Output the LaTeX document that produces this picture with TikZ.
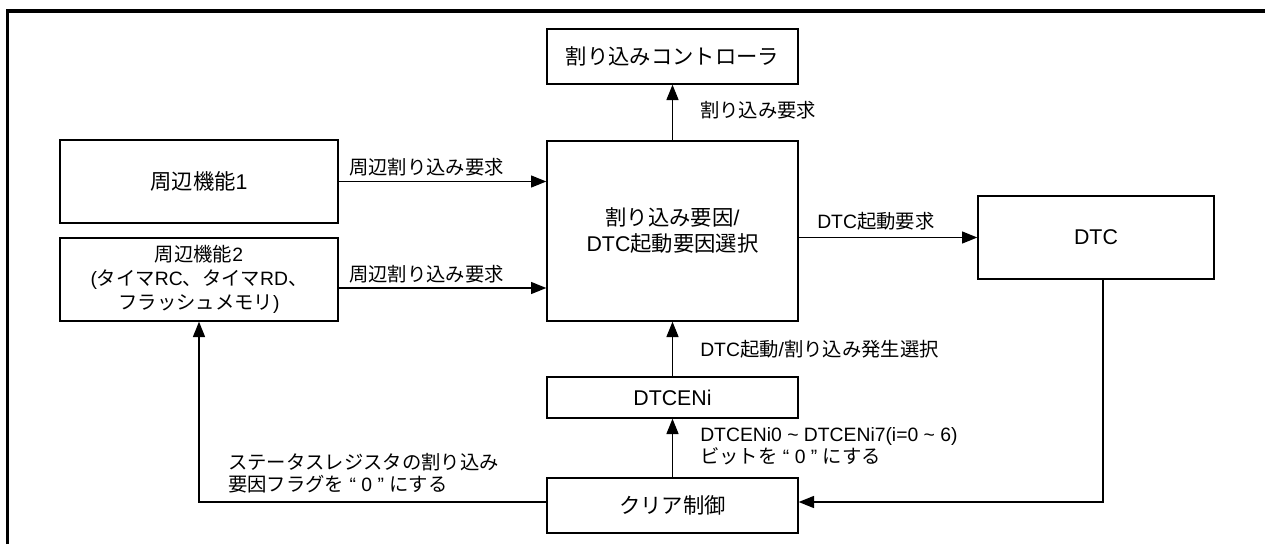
\documentclass[tikz,border=0pt]{standalone}
\usepackage{fontspec}
\setmainfont{Noto Sans CJK JP}
\newfontfamily\lib{Liberation Sans}
\newcommand\en[1]{{\lib #1}}
\usetikzlibrary{arrows.meta}
\begin{document}
\begin{tikzpicture}[x=0.75pt,y=-0.75pt,
  blk/.style={draw,line width=1pt,inner sep=0pt,align=center,font=\fontsize{16}{19.5}\selectfont},
  lab/.style={inner sep=0pt,anchor=west,align=left,font=\fontsize{14.5}{16.5}\selectfont},
  arr/.style={line width=1pt,-{Triangle[length=11.5pt,width=9pt]}},
  ln/.style={line width=1pt}]
\useasboundingbox (0,0) rectangle (1265,544);
\draw[line width=2.4pt] (7.5,544) -- (7.5,11) -- (1265,11);

\node[blk,minimum width=188.25pt,minimum height=41.25pt] (ctrl) at (672.5,56.5) {割り込みコントローラ};
\node[blk,minimum width=208.5pt,minimum height=62.25pt] (p1) at (199,181.5) {周辺機能\en{1}};
\node[blk,minimum width=208.5pt,minimum height=62.25pt,font=\fontsize{14.5}{18}\selectfont] (p2) at (199,279.5)
  {周辺機能\en{2}\\\en{(}タイマ\en{RC}、タイマ\en{RD}、\\フラッシュメモリ\en{)}};
\node[blk,minimum width=188.25pt,minimum height=135pt] (main) at (672.5,231)
  {割り込み要因\en{/}\\\en{DTC}起動要因選択};
\node[blk,minimum width=177pt,minimum height=62.25pt] (dtc) at (1096,237.5) {\en{DTC}};
\node[blk,minimum width=188.25pt,minimum height=30.75pt] (en) at (672.5,397.5) {\en{DTCENi}};
\node[blk,minimum width=188.25pt,minimum height=41.25pt] (clr) at (672.5,505.5) {クリア制御};

\coordinate (a2) at (0,288);
\coordinate (fb) at (1103,502);
\coordinate (fb2) at (199,502);

\draw[arr] (p1.east) -- (main.west |- p1.east);
\draw[arr] (p2.east |- a2) -- (main.west |- a2);
\draw[arr] (main.north) -- (ctrl.south);
\draw[arr] (main.east |- dtc.west) -- (dtc.west);
\draw[arr] (en.north) -- (main.south);
\draw[arr] (clr.north) -- (en.south);
\draw[arr] (dtc.south -| fb) -- (fb) -- (clr.east |- fb);
\draw[arr] (clr.west |- fb) -- (fb2) -- (p2.south);

\node[lab] (l1) at (349,167) {周辺割り込み要求};
\node[lab] (l2) at (349,274) {周辺割り込み要求};
\node[lab] (l3) at (700,110) {割り込み要求};
\node[lab] (l4) at (817,221) {\en{DTC}起動要求};
\node[lab] (l5) at (700,349) {\en{DTC}起動\en{/}割り込み発生選択};
\node[lab] (l6) at (700,446) {\en{DTCENi0 \textasciitilde{} DTCENi7(i=0 \textasciitilde{} 6)}\\ビットを\en{\ “ 0 ” }にする};
\node[lab] (l7) at (228,473.5) {ステータスレジスタの割り込み\\要因フラグを\en{\ “ 0 ” }にする};
\end{tikzpicture}
\end{document}
